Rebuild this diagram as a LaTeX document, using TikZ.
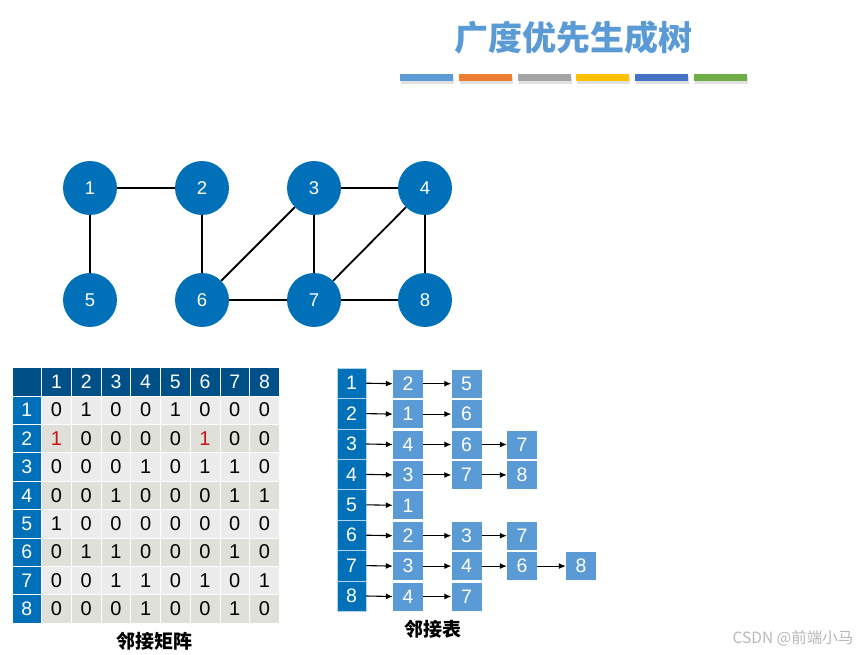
\documentclass[tikz,border=0pt]{standalone}
\usepackage{fontspec}
\setmainfont{Liberation Sans}
\setsansfont{Liberation Sans}
\newfontfamily\cjk{Noto Sans CJK SC}
\usetikzlibrary{arrows.meta}
\definecolor{nodeblue}{RGB}{0,112,184}
\definecolor{headblue}{RGB}{0,80,136}
\definecolor{lightblue}{RGB}{91,155,213}
\definecolor{barorange}{RGB}{237,125,49}
\definecolor{bargray}{RGB}{165,165,165}
\definecolor{baryellow}{RGB}{255,192,0}
\definecolor{bardblue}{RGB}{68,114,196}
\definecolor{bargreen}{RGB}{112,173,71}
\definecolor{cellA}{RGB}{236,236,236}
\definecolor{cellB}{RGB}{224,224,218}
\definecolor{redone}{RGB}{200,20,20}
\definecolor{wmgray}{RGB}{185,185,185}
\tikzset{
  vertex/.style={circle,fill=nodeblue,minimum size=54pt,inner sep=0pt,text=white,font=\fontsize{18.5}{18.5}\selectfont},
  edge/.style={line width=1.8pt,black},
  bar/.style={inner sep=0pt,minimum width=53pt,minimum height=7pt},
  cell/.style={inner sep=0pt,minimum width=29.7pt,minimum height=28.4pt,draw=white,line width=0.8pt,font=\fontsize{20}{20}\selectfont},
  hcell/.style={cell,text=white,font=\fontsize{19.5}{19.5}\selectfont},
  lcell/.style={inner sep=0pt,minimum width=29pt,minimum height=30.4pt,fill=nodeblue,draw=white!70!nodeblue,line width=0.5pt,text=white,font=\fontsize{19.5}{19.5}\selectfont},
  lbox/.style={inner sep=0pt,minimum width=30pt,minimum height=28pt,fill=lightblue,text=white,font=\fontsize{19.5}{19.5}\selectfont},
  link/.style={line width=1.1pt,-{Latex[length=7pt,width=6pt]}},
  caption/.style={font=\cjk\bfseries\fontsize{19}{19}\selectfont}
}
\begin{document}
\begin{tikzpicture}[x=1pt,y=-1pt]
\useasboundingbox[fill=white] (0,0) rectangle (862,655);
% title
\node[text=lightblue,font=\cjk\bfseries\fontsize{34}{34}\selectfont] (title) at (573,38) {广度优先生成树};
\foreach \c [count=\i] in {lightblue,barorange,bargray,baryellow,bardblue,bargreen}{
  \pgfmathsetmacro\bx{426.5+58.8*(\i-1)}
  \fill[black!12] (\bx-26.5+1,75.5+1.5) rectangle (\bx+26.5+1,82.5+1.5);
  \node[bar,fill=\c] (bar\i) at (\bx,78) {};
}
% graph
\node[vertex] (v1) at (90,188) {1};
\node[vertex] (v2) at (202,188) {2};
\node[vertex] (v3) at (314,188) {3};
\node[vertex] (v4) at (425,188) {4};
\node[vertex] (v5) at (90,300) {5};
\node[vertex] (v6) at (202,300) {6};
\node[vertex] (v7) at (314,300) {7};
\node[vertex] (v8) at (425,300) {8};
\foreach \a/\b in {1/2,1/5,2/6,3/4,3/6,3/7,4/7,4/8,6/7,7/8}
  \draw[edge] (v\a) -- (v\b);
% matrix
\node[cell,fill=headblue] (m-0-0) at (12+14.85,367.5+14.2) {};
\foreach \c in {1,...,8}{
  \node[hcell,fill=headblue] (m-0-\c) at (12+29.7*\c+14.85,367.5+14.2) {\c};
  \node[hcell,fill=nodeblue] (m-\c-0) at (12+14.85,367.5+28.4*\c+14.2) {\c};
}
\foreach \row [count=\r] in {
  {0,1,0,0,1,0,0,0},
  {1,0,0,0,0,1,0,0},
  {0,0,0,1,0,1,1,0},
  {0,0,1,0,0,0,1,1},
  {1,0,0,0,0,0,0,0},
  {0,1,1,0,0,0,1,0},
  {0,0,1,1,0,1,0,1},
  {0,0,0,1,0,0,1,0}}{
  \foreach \v [count=\c] in \row {
    \pgfmathparse{isodd(\r)?"cellA":"cellB"}\edef\fc{\pgfmathresult}
    \ifnum\r=2 \ifnum\v=1 \def\tc{redone}\else\def\tc{black}\fi\else\def\tc{black}\fi
    \node[cell,fill=\fc,text=\tc] (m-\r-\c) at (12+29.7*\c+14.85,367.5+28.4*\r+14.2) {\v};
  }
}
\node[caption] (mcap) at (154,641) {邻接矩阵};
% adjacency list
\foreach \lst [count=\r] in {{2,5},{1,6},{4,6,7},{3,7,8},{1},{2,3,7},{3,4,6,8},{4,7}}{
  \pgfmathsetmacro\ry{368+30.4*(\r-1)+15.2}
  \node[lcell] (h\r) at (351.5,\ry) {\r};
  \foreach \v [count=\k] in \lst {
    \pgfmathsetmacro\bx{\k==1?408:(\k==2?466.5:(\k==3?522:581))}
    \node[lbox] (b\r-\k) at (\bx,\ry+0.5) {\v};
    \ifnum\k=1
      \draw[link] (h\r.east) -- (b\r-\k.west);
    \else
      \pgfmathtruncatemacro\pk{\k-1}
      \draw[link] (b\r-\pk.east) -- (b\r-\k.west);
    \fi
  }
}
\node[caption] (lcap) at (432.5,629) {邻接表};
% watermark
\node[text=wmgray,font=\cjk\fontsize{15.5}{15.5}\selectfont] (wm) at (793,638) {CSDN @前端小马};
\end{tikzpicture}
\end{document}
